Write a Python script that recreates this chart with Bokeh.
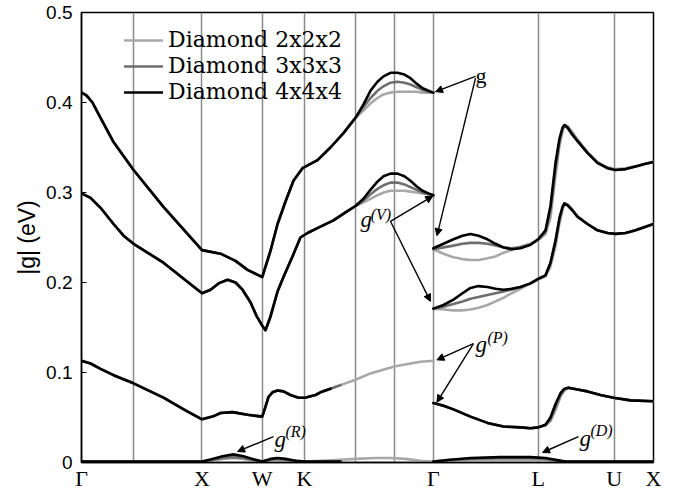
from bokeh.plotting import figure
from bokeh.models import Range1d, FixedTicker, Legend, LegendItem, Arrow, NormalHead
from bokeh.core.properties import value
from bokeh.embed import file_html
from bokeh.resources import INLINE

# ---------------- axis / path data ----------------
X_TICKS = [0, 1.0, 1.5, 1.85, 2.92, 3.79, 4.42, 4.747]
X_LABELS = ["Γ", "X", "W", "K", "Γ", "L", "U", "X"]
EXTRA_LINES = [0.432, 2.274, 2.60]
Y_TICKS = [0, 0.1, 0.2, 0.3, 0.4, 0.5]

SERIES = ["Diamond 2x2x2", "Diamond 3x3x3", "Diamond 4x4x4"]
COLORS = ["#a8a8a8", "#6e6e6e", "#000000"]

# ---------------- left part (Γ-X-W-K-Γ) ----------------
# upper band
UP_L_X_SHARED = [0, 0.041, 0.091, 0.158, 0.266, 0.432, 0.680, 1.0, 1.154, 1.278, 1.378,
                 1.5, 1.568, 1.627, 1.693, 1.759, 1.834, 1.959, 2.066, 2.174, 2.274]
UP_L_Y_SHARED = [0.411, 0.408, 0.400, 0.383, 0.356, 0.325, 0.284, 0.236, 0.232, 0.224, 0.214,
                 0.206, 0.235, 0.265, 0.290, 0.313, 0.327, 0.336, 0.350, 0.366, 0.383]
UP_L_X_TAIL = [2.340, 2.398, 2.456, 2.506, 2.564, 2.622, 2.680, 2.730, 2.780, 2.830, 2.880, 2.92]
UP_L_Y_TAIL_2 = [0.391, 0.399, 0.405, 0.409, 0.411, 0.412, 0.412, 0.412, 0.412, 0.411, 0.411, 0.411]
UP_L_Y_TAIL_3 = [0.395, 0.405, 0.413, 0.418, 0.422, 0.423, 0.422, 0.420, 0.417, 0.414, 0.412, 0.411]
UP_L_Y_TAIL_4 = [0.398, 0.413, 0.423, 0.429, 0.433, 0.433, 0.431, 0.427, 0.421, 0.416, 0.413, 0.411]

# middle band
MID_L_X_SHARED = [0, 0.075, 0.158, 0.266, 0.349, 0.432, 0.680, 1.0, 1.071, 1.137, 1.212, 1.278,
                  1.336, 1.402, 1.452, 1.5, 1.527, 1.568, 1.627, 1.676, 1.751, 1.817, 1.876,
                  1.983, 2.091, 2.191, 2.274]
MID_L_Y_SHARED = [0.299, 0.294, 0.283, 0.265, 0.252, 0.243, 0.222, 0.188, 0.192, 0.199, 0.203, 0.200,
                  0.192, 0.178, 0.163, 0.152, 0.147, 0.162, 0.190, 0.206, 0.229, 0.250, 0.255,
                  0.262, 0.269, 0.278, 0.285]
MID_L_X_TAIL = [2.340, 2.398, 2.456, 2.506, 2.564, 2.622, 2.680, 2.730, 2.780, 2.830, 2.880, 2.92]
MID_L_Y_TAIL_2 = [0.289, 0.293, 0.297, 0.300, 0.302, 0.302, 0.302, 0.301, 0.300, 0.299, 0.298, 0.297]
MID_L_Y_TAIL_3 = [0.291, 0.298, 0.304, 0.308, 0.311, 0.311, 0.309, 0.306, 0.303, 0.300, 0.298, 0.297]
MID_L_Y_TAIL_4 = [0.293, 0.303, 0.312, 0.318, 0.321, 0.321, 0.318, 0.313, 0.307, 0.302, 0.299, 0.297]

# lower band (only the 2x2x2 curve reaches Γ)
LOW_L_X = [0, 0.075, 0.158, 0.266, 0.432, 0.680, 0.863, 1.0, 1.087, 1.154, 1.253, 1.378, 1.5,
           1.527, 1.552, 1.585, 1.627, 1.676, 1.734, 1.801, 1.854, 1.942, 1.983, 2.066, 2.149,
           2.274, 2.398, 2.523, 2.606, 2.730, 2.813, 2.92]
LOW_L_Y = [0.113, 0.110, 0.104, 0.097, 0.088, 0.072, 0.058, 0.048, 0.051, 0.055, 0.056, 0.053, 0.051,
           0.062, 0.073, 0.078, 0.080, 0.079, 0.075, 0.072, 0.072, 0.075, 0.078, 0.082, 0.086,
           0.092, 0.099, 0.104, 0.107, 0.110, 0.112, 0.113]
LOW_L_END_3 = 25   # number of points drawn for 3x3x3
LOW_L_END_4 = 24   # number of points drawn for 4x4x4

# bottom band (near zero)
BOT_L_X = [0, 0.5, 1.0, 1.087, 1.170, 1.261, 1.344, 1.419, 1.5, 1.568, 1.627, 1.693, 1.776, 1.854,
           1.983, 2.149, 2.274, 2.440, 2.564, 2.689, 2.813, 2.92]
BOT_L_Y_2 = [0.001, 0.001, 0.001, 0.002, 0.004, 0.005, 0.004, 0.002, 0.001, 0.002, 0.003, 0.002,
             0.001, 0.001, 0.002, 0.003, 0.004, 0.005, 0.005, 0.004, 0.002, 0.001]
BOT_L_Y_3 = [0.001, 0.001, 0.001, 0.003, 0.005, 0.006, 0.005, 0.003, 0.001, 0.003, 0.004, 0.003,
             0.002, 0.001, 0.001, 0.001]
BOT_L_Y_4 = [0.001, 0.001, 0.001, 0.004, 0.007, 0.009, 0.007, 0.004, 0.001, 0.004, 0.005, 0.004,
             0.002, 0.001, 0.001, 0.001]

# ---------------- right part (Γ-L-U-X) ----------------
R_X = [2.92, 3.004, 3.087, 3.162, 3.228, 3.295, 3.369, 3.436, 3.502, 3.568, 3.643, 3.726, 3.79,
       3.851, 3.892, 3.934, 3.967, 3.992, 4.008, 4.033, 4.075, 4.116, 4.199, 4.282, 4.365, 4.432,
       4.515, 4.598, 4.681, 4.747]
UP_R_Y_2 = [0.237, 0.232, 0.228, 0.226, 0.225, 0.225, 0.227, 0.229, 0.233, 0.236, 0.240, 0.243, 0.247,
            0.254, 0.272, 0.318, 0.352, 0.368, 0.374, 0.374, 0.367, 0.359, 0.345, 0.334, 0.328, 0.326,
            0.327, 0.329, 0.332, 0.334]
UP_R_Y_3 = [0.237, 0.239, 0.241, 0.243, 0.244, 0.244, 0.243, 0.241, 0.239, 0.238, 0.239, 0.242, 0.248,
            0.256, 0.280, 0.327, 0.357, 0.370, 0.375, 0.373, 0.365, 0.358, 0.344, 0.333, 0.327, 0.325,
            0.326, 0.329, 0.332, 0.334]
UP_R_Y_4 = [0.238, 0.243, 0.248, 0.252, 0.254, 0.252, 0.248, 0.243, 0.239, 0.237, 0.238, 0.242, 0.248,
            0.258, 0.285, 0.333, 0.360, 0.372, 0.375, 0.372, 0.364, 0.357, 0.344, 0.333, 0.327, 0.325,
            0.326, 0.329, 0.332, 0.334]
MID_R_Y_2 = [0.171, 0.170, 0.169, 0.169, 0.170, 0.172, 0.175, 0.179, 0.183, 0.188, 0.193, 0.199, 0.203,
             0.207, 0.218, 0.240, 0.266, 0.281, 0.287, 0.287, 0.281, 0.274, 0.265, 0.258, 0.255, 0.254,
             0.255, 0.258, 0.262, 0.265]
MID_R_Y_3 = [0.171, 0.173, 0.176, 0.179, 0.182, 0.184, 0.186, 0.188, 0.190, 0.192, 0.195, 0.199, 0.204,
             0.208, 0.221, 0.245, 0.270, 0.283, 0.288, 0.286, 0.280, 0.273, 0.265, 0.258, 0.255, 0.254,
             0.255, 0.258, 0.262, 0.265]
MID_R_Y_4 = [0.171, 0.175, 0.181, 0.188, 0.194, 0.196, 0.195, 0.193, 0.192, 0.193, 0.195, 0.199, 0.204,
             0.208, 0.222, 0.247, 0.272, 0.284, 0.288, 0.286, 0.280, 0.273, 0.265, 0.258, 0.255, 0.254,
             0.255, 0.258, 0.262, 0.265]

LOW_R_X = [2.92, 3.004, 3.087, 3.228, 3.369, 3.502, 3.643, 3.726, 3.79, 3.851, 3.892, 3.934, 3.975,
           4.008, 4.041, 4.116, 4.199, 4.307, 4.415, 4.556, 4.747]
LOW_R_Y_2 = [0.066, 0.063, 0.059, 0.051, 0.044, 0.040, 0.039, 0.038, 0.039, 0.041, 0.046, 0.058, 0.073,
             0.080, 0.083, 0.081, 0.079, 0.075, 0.072, 0.069, 0.068]
LOW_R_Y_3 = [0.066, 0.063, 0.059, 0.051, 0.044, 0.040, 0.039, 0.038, 0.039, 0.042, 0.048, 0.062, 0.075,
             0.081, 0.083, 0.081, 0.079, 0.075, 0.072, 0.069, 0.068]
LOW_R_Y_4 = [0.066, 0.063, 0.059, 0.051, 0.044, 0.040, 0.039, 0.038, 0.039, 0.042, 0.050, 0.065, 0.077,
             0.082, 0.083, 0.081, 0.079, 0.075, 0.072, 0.069, 0.068]

BOT_R_X = [2.92, 3.062, 3.228, 3.477, 3.726, 3.851, 3.934, 4.017, 4.199, 4.747]
BOT_R_Y_2 = [0.001, 0.002, 0.003, 0.003, 0.003, 0.003, 0.002, 0.001, 0.001, 0.001]
BOT_R_Y_3 = [0.001, 0.003, 0.004, 0.005, 0.005, 0.004, 0.002, 0.001, 0.001, 0.001]
BOT_R_Y_4 = [0.001, 0.003, 0.005, 0.006, 0.006, 0.005, 0.003, 0.001, 0.001, 0.001]

# ---------------- annotations ----------------
ANN_TOP_X = [3.27]
ANN_TOP_Y = [0.4305]
ANN_TOP_TEXT = ["g"]
ANN_G_X = [2.315, 3.270, 1.602, 4.133]
ANN_G_Y = [0.2705, 0.131, 0.0258, 0.0268]
ANN_SUP_X = [2.400, 3.369, 1.693, 4.224]
ANN_SUP_Y = [0.2758, 0.1384, 0.0342, 0.0353]
ANN_SUP_TEXT = ["(V)", "(P)", "(R)", "(D)"]
ARROWS = [  # (x_start, y_start, x_end, y_end)
    (3.270, 0.429, 2.938, 0.412),
    (3.270, 0.427, 2.950, 0.252),
    (2.564, 0.268, 2.915, 0.296),
    (2.564, 0.268, 2.896, 0.179),
    (3.253, 0.132, 2.950, 0.114),
    (3.253, 0.132, 2.950, 0.067),
    (1.593, 0.0288, 1.295, 0.0122),
    (4.124, 0.0288, 3.826, 0.0111),
]

# ---------------- figure ----------------
p = figure(width=684, height=493, output_backend="svg", toolbar_location=None,
           x_range=Range1d(0, 4.747), y_range=Range1d(0, 0.5),
           min_border_left=81, min_border_right=31, min_border_top=12, min_border_bottom=30)
p.background_fill_color = "white"
p.border_fill_color = "white"
p.outline_line_color = "black"
p.outline_line_width = 1.5

# grid: vertical lines only
p.ygrid.grid_line_color = None
p.xgrid.ticker = FixedTicker(ticks=X_TICKS + EXTRA_LINES)
p.xgrid.grid_line_color = "#8a8a8a"
p.xgrid.grid_line_width = 1.5

# x axis
p.xaxis.ticker = FixedTicker(ticks=X_TICKS)
p.xaxis.major_label_overrides = {t: l for t, l in zip(X_TICKS, X_LABELS)}
p.xaxis.major_tick_in = 0
p.xaxis.major_tick_out = 0
p.xaxis.minor_tick_line_color = None
p.xaxis.axis_line_color = "black"
p.xaxis.axis_line_width = 1.5
p.xaxis.major_label_text_font = "Liberation Serif"
p.xaxis.major_label_text_font_size = "22px"
p.xaxis.major_label_text_color = "black"
p.xaxis.major_label_standoff = 3

# y axis
p.yaxis.ticker = FixedTicker(ticks=Y_TICKS)
p.yaxis.major_label_overrides = {0: "0"}
p.yaxis.major_tick_in = 5
p.yaxis.major_tick_out = 0
p.yaxis.minor_tick_line_color = None
p.yaxis.axis_line_color = "black"
p.yaxis.axis_line_width = 1.5
p.yaxis.major_label_text_font = "Liberation Sans"
p.yaxis.major_label_text_font_size = "19px"
p.yaxis.major_label_text_color = "black"
p.yaxis.major_label_standoff = 9
p.yaxis.axis_label = "|g| (eV)"
p.yaxis.axis_label_text_font = "Liberation Sans"
p.yaxis.axis_label_text_font_size = "23px"
p.yaxis.axis_label_text_font_style = "normal"
p.yaxis.axis_label_text_color = "black"
p.yaxis.axis_label_standoff = 3

# series data assembled from the arrays above
xs_all = [
    [UP_L_X_SHARED + UP_L_X_TAIL, MID_L_X_SHARED + MID_L_X_TAIL, LOW_L_X, BOT_L_X,
     R_X, R_X, LOW_R_X, BOT_R_X],
    [UP_L_X_SHARED + UP_L_X_TAIL, MID_L_X_SHARED + MID_L_X_TAIL, LOW_L_X[:LOW_L_END_3],
     BOT_L_X[:len(BOT_L_Y_3)], R_X, R_X, LOW_R_X, BOT_R_X],
    [UP_L_X_SHARED + UP_L_X_TAIL, MID_L_X_SHARED + MID_L_X_TAIL, LOW_L_X[:LOW_L_END_4],
     BOT_L_X[:len(BOT_L_Y_4)], R_X, R_X, LOW_R_X, BOT_R_X],
]
ys_all = [
    [UP_L_Y_SHARED + UP_L_Y_TAIL_2, MID_L_Y_SHARED + MID_L_Y_TAIL_2, LOW_L_Y, BOT_L_Y_2,
     UP_R_Y_2, MID_R_Y_2, LOW_R_Y_2, BOT_R_Y_2],
    [UP_L_Y_SHARED + UP_L_Y_TAIL_3, MID_L_Y_SHARED + MID_L_Y_TAIL_3, LOW_L_Y[:LOW_L_END_3], BOT_L_Y_3,
     UP_R_Y_3, MID_R_Y_3, LOW_R_Y_3, BOT_R_Y_3],
    [UP_L_Y_SHARED + UP_L_Y_TAIL_4, MID_L_Y_SHARED + MID_L_Y_TAIL_4, LOW_L_Y[:LOW_L_END_4], BOT_L_Y_4,
     UP_R_Y_4, MID_R_Y_4, LOW_R_Y_4, BOT_R_Y_4],
]

renderers = []
for xs, ys, c in zip(xs_all, ys_all, COLORS):
    r = p.multi_line(xs=xs, ys=ys, line_color=c, line_width=2.6,
                     line_join="round", line_cap="round")
    renderers.append(r)

legend = Legend(items=[LegendItem(label=s, renderers=[r]) for s, r in zip(SERIES, renderers)],
                location=(43, 358), orientation="vertical",
                label_text_font="DejaVu Serif", label_text_font_size="22px",
                label_text_color="black", glyph_width=39, glyph_height=18, label_height=18,
                label_standoff=5, spacing=1, padding=0, margin=0,
                border_line_color=None, background_fill_alpha=0)
p.add_layout(legend)

# annotations
for xs0, ys0, xe, ye in ARROWS:
    p.add_layout(Arrow(end=NormalHead(size=7, fill_color="black", line_color="black", line_width=1),
                       x_start=xs0, y_start=ys0, x_end=xe, y_end=ye,
                       line_color="black", line_width=1.4))

p.text(x=ANN_TOP_X, y=ANN_TOP_Y, text=ANN_TOP_TEXT, text_font=value("Liberation Serif"),
       text_font_size="22px", text_color="black",
       text_align="left", text_baseline="alphabetic")
p.text(x=ANN_G_X, y=ANN_G_Y, text=["g"] * len(ANN_G_X), text_font=value("Liberation Serif"),
       text_font_style="italic", text_font_size="23px", text_color="black",
       text_align="left", text_baseline="alphabetic")
p.text(x=ANN_SUP_X, y=ANN_SUP_Y, text=ANN_SUP_TEXT, text_font=value("Liberation Serif"),
       text_font_style="italic", text_font_size="16px", text_color="black",
       text_align="left", text_baseline="alphabetic")

open("out.html", "w").write(file_html(p, INLINE))
